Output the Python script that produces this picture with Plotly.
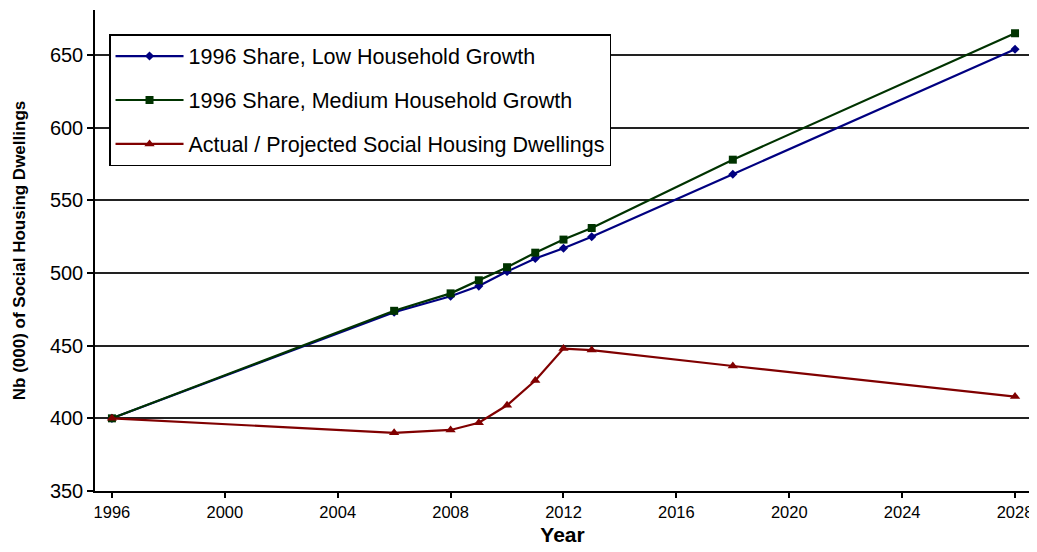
import plotly.graph_objects as go

years = [1996, 2006, 2008, 2009, 2010, 2011, 2012, 2013, 2018, 2028]
low_growth = [400, 473, 484, 491, 501, 510, 517, 525, 568, 654]
medium_growth = [400, 474, 486, 495, 504, 514, 523, 531, 578, 665]
actual_projected = [400, 390, 392, 397, 409, 426, 448, 447, 436, 415]

names = ["1996 Share, Low Household Growth",
         "1996 Share, Medium Household Growth",
         "Actual / Projected Social Housing Dwellings"]
colors = ["#000080", "#003300", "#800000"]
symbols = ["diamond", "square", "triangle-up"]
sizes = [7, 8, 9]
series = [low_growth, medium_growth, actual_projected]

x_ticks = [1996, 2000, 2004, 2008, 2012, 2016, 2020, 2024, 2028]
y_ticks = [350, 400, 450, 500, 550, 600, 650]

fig = go.Figure()
for i, (nm, vals) in enumerate(zip(names, series)):
    fig.add_trace(go.Scatter(
        x=years, y=vals, name=nm, mode="lines+markers",
        line=dict(color=colors[i], width=2.2),
        marker=dict(symbol=symbols[i], size=sizes[i], color=colors[i]),
        legendgroup=f"g{i}",
    ))

font = "Arial, Liberation Sans, sans-serif"
fig.update_layout(
    width=1029, height=544,
    margin=dict(l=87, r=7, t=2, b=61),
    paper_bgcolor="white", plot_bgcolor="white",
    font=dict(family=font, color="#000000"),
    showlegend=True,
    legend=dict(
        x=0.015, y=0.95, xanchor="left", yanchor="top",
        bgcolor="white", bordercolor="#000000", borderwidth=1.5,
        font=dict(size=21.5, family=font, color="#000000"),
        tracegroupgap=13, itemwidth=68,
        entrywidth=440, entrywidthmode="pixels",
    ),
    xaxis=dict(
        range=[1995.4, 2028.53], tickvals=x_ticks,
        ticktext=[str(t) for t in x_ticks],
        showgrid=False, zeroline=False, automargin=False,
        showline=True, linecolor="#000000", linewidth=1.5,
        ticks="outside", ticklen=5, tickcolor="#000000", tickwidth=1.5,
        tickfont=dict(size=16.5, family=font, color="#000000"),
        title=dict(text="<b>Year</b>", font=dict(size=21, family=font), standoff=8),
    ),
    yaxis=dict(
        range=[350, 681], tickvals=y_ticks,
        showgrid=True, gridcolor="#222222", gridwidth=1.5,
        zeroline=False, automargin=False,
        showline=True, linecolor="#000000", linewidth=1.5,
        ticks="outside", ticklen=6, tickcolor="#000000", tickwidth=1.5,
        tickfont=dict(size=20, family=font, color="#000000"),
        title=dict(text="<b>Nb (000) of Social Housing Dwellings</b>",
                   font=dict(size=17, family=font), standoff=20),
    ),
)

fig.write_html("out.html")
